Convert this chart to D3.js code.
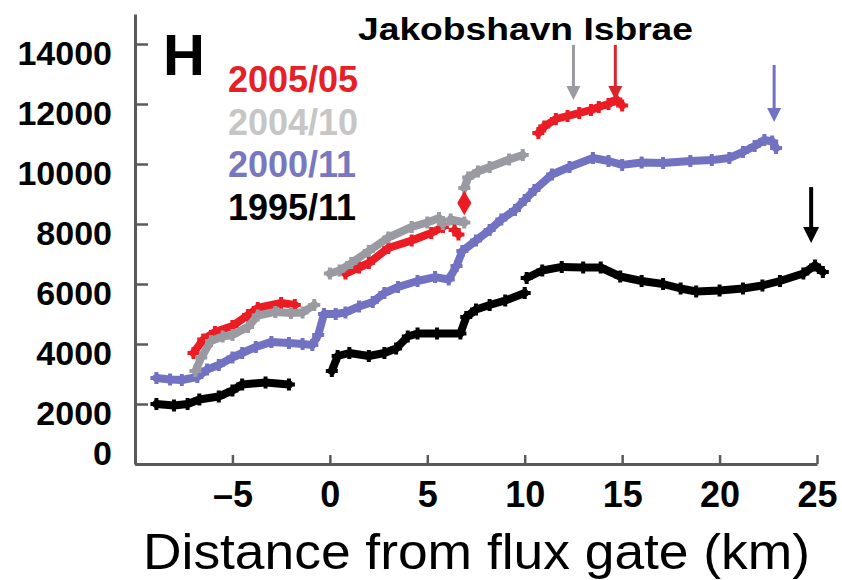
<!DOCTYPE html>
<html>
<head>
<meta charset="utf-8">
<script src="https://cdn.jsdelivr.net/npm/d3@7"></script>
<style>
body { margin: 0; background: #ffffff; }
text { font-family: "Liberation Sans", Arial, Helvetica, sans-serif; }
</style>
</head>
<body>
<svg></svg>
<script>
var screen = {width: 842, height: 580};

// distance (km) and flux values, null = gap in the profile
var dist1995 = [-8.9, -8.0, -7.3, -6.7, -5.7, -5.0, -4.5, -3.3, -2.1, null,
    0.1, 0.4, 1.0, 2.0, 2.8, 3.4, 4.0, 4.5, 5.5, 6.7, 7.0, 7.5, 8.2, 9.0, 10.0, null,
    10.1, 10.9, 11.9, 13.0, 13.9, 14.9, 16.0, 17.1, 18.0, 18.8, 20.0, 21.2, 22.2, 23.1, 24.3, 24.9, 25.3];
var flux1995 = [2000, 1950, 2000, 2150, 2250, 2450, 2650, 2720, 2650, null,
    3100, 3600, 3700, 3600, 3700, 3850, 4250, 4350, 4350, 4350, 4900, 5150, 5300, 5450, 5700, null,
    6200, 6450, 6570, 6550, 6550, 6250, 6100, 6000, 5850, 5750, 5780, 5850, 5950, 6100, 6350, 6620, 6400];

var dist2000 = [-8.9, -8.2, -7.6, -6.8, -6.3, -5.7, -5.0, -4.5, -3.8, -3.0, -2.1, -1.4, -0.9, -0.6, -0.3,
    0.3, 0.8, 1.5, 2.2, 2.8, 3.5, 4.5, 5.4, 6.1, 6.5, 6.8, 7.5, 8.2, 8.8, 9.5, 10.0, 10.5, 11.4, 12.3,
    13.5, 14.3, 15.0, 16.0, 17.1, 18.5, 19.6, 20.5, 21.2, 21.8, 22.3, 22.7, 22.9];
var flux2000 = [2870, 2820, 2800, 2900, 3150, 3300, 3550, 3700, 3900, 4070, 4030, 4000, 3970, 4300, 5000,
    5000, 5050, 5250, 5400, 5700, 5900, 6100, 6230, 6150, 6600, 7100, 7450, 7800, 8150, 8470, 8800, 9130, 9650, 9900,
    10200, 10100, 9970, 10050, 10030, 10100, 10130, 10200, 10400, 10600, 10800, 10750, 10530];

var dist2004 = [-6.9, -6.6, -6.1, -5.5, -5.0, -4.2, -3.7, -2.8, -2.0, -1.4, -0.8, null,
    0.0, 0.5, 1.1, 2.0, 3.0, 4.2, 5.0, 5.6, 5.8, null,
    6.2, 6.9, null,
    6.9, 7.1, 7.6, 8.2, 9.2, 9.9];
var flux2004 = [3100, 3550, 4100, 4250, 4300, 4570, 4950, 5070, 5030, 5050, 5300, null,
    6350, 6450, 6700, 7100, 7550, 7900, 8050, 8200, 8000, null,
    8150, 8050, null,
    9200, 9550, 9750, 9900, 10150, 10300];

var dist2005 = [-7.0, -6.5, -5.9, -5.0, -4.2, -3.7, -2.5, -1.8, null,
    0.8, 1.5, 2.0, 3.0, 4.2, 5.2, 5.8, null,
    6.4, 6.6, null,
    6.9, null,
    10.7, 11.0, 11.6, 12.2, 12.8, 13.4, 13.8, 14.3, 14.7, 15.0];
var flux2005 = [3700, 4150, 4400, 4600, 4970, 5200, 5370, 5300, null,
    6350, 6550, 6700, 7200, 7450, 7700, 7900, null,
    7800, 7650, null,
    8700, null,
    11030, 11250, 11500, 11600, 11700, 11800, 11900, 12000, 12150, 11950];

var seriesNames = ["2005/05", "2004/10", "2000/11", "1995/11"];
var seriesColors = ["#ec1c24", "#9a9aa2", "#7272c2", "#000000"];
var legendColors = ["#e52026", "#c6c6c6", "#7878c0", "#000000"];

// arrows marking the glacier front for each date
var arrowDist = [14.65, 12.5, 22.8, 24.7];
var arrowFrom = [13970, 13970, 13300, 9230];
var arrowTo = [12130, 12130, 11400, 7370];
var arrowColors = ["#d8262c", "#9a9aa2", "#7272c2", "#000000"];

var xTicks = [-5, 0, 5, 10, 15, 20, 25];
var yTicks = [0, 2000, 4000, 6000, 8000, 10000, 12000, 14000];

var svg = d3.select("svg")
    .attr("width", screen.width)
    .attr("height", screen.height);

var xScale = d3.scaleLinear()
                .domain([-10, 25])
                .range([135, 817]);

var yScale = d3.scaleLinear()
                .domain([0, 15000])
                .range([464, 14]);

var xAxis = d3.axisBottom(xScale)
                .tickValues(xTicks)
                .tickSize(-9)
                .tickSizeOuter(0)
                .tickPadding(17)
                .tickFormat(function(d){return d < 0 ? "\u2013" + Math.abs(d) : d;});

var yAxis = d3.axisLeft(yScale)
                .tickValues(yTicks)
                .tickSize(-13)
                .tickSizeOuter(0)
                .tickPadding(23)
                .tickFormat(function(d){return d;});

var gx = svg.append("g")
    .attr("id", "xAxis")
    .attr("transform", "translate(0," + yScale(0) + ")")
    .call(xAxis);

var gy = svg.append("g")
    .attr("id", "yAxis")
    .attr("transform", "translate(" + xScale(-10) + ",0)")
    .call(yAxis);

svg.selectAll(".domain")
    .attr("stroke", "#5a5a5a")
    .attr("stroke-width", 3);
svg.selectAll(".tick line")
    .attr("stroke", "#5a5a5a")
    .attr("stroke-width", 2.5);

gx.selectAll("text")
    .attr("font-size", 36)
    .attr("font-weight", "bold")
    .attr("fill", "#000");

gy.selectAll("text")
    .attr("font-size", 34)
    .attr("font-weight", "bold")
    .attr("fill", "#000")
    .attr("y", function(d){return d == 0 ? -10 : 10;});

svg.append("text")
    .attr("x", 143)
    .attr("y", 569)
    .attr("font-size", 50)
    .attr("textLength", 667)
    .attr("lengthAdjust", "spacingAndGlyphs")
    .text("Distance from flux gate (km)");

// profiles
var profiles = [
    {dist: dist2005, flux: flux2005},
    {dist: dist2004, flux: flux2004},
    {dist: dist2000, flux: flux2000},
    {dist: dist1995, flux: flux1995}
];

var lineGenerator = d3.line()
                        .defined(function(d){return d[1] != null;})
                        .x(function(d){return xScale(d[0]);})
                        .y(function(d){return yScale(d[1]);});

// draw back to front: black, blue, red, gray
var order = [3, 2, 0, 1];
order.forEach(function(i)
{
    var pts = profiles[i].dist.map(function(d, j){return [d, profiles[i].flux[j]];});
    var g = svg.append("g").attr("class", "series");

    g.append("path")
        .datum(pts)
        .attr("fill", "none")
        .attr("stroke", seriesColors[i])
        .attr("stroke-width", 8)
        .attr("stroke-linejoin", "round")
        .attr("stroke-linecap", "round")
        .attr("d", lineGenerator);

    g.selectAll("path.cross")
        .data(pts.filter(function(d){return d[1] != null;}))
        .enter()
        .append("path")
        .attr("class", "cross")
        .attr("d", d3.symbol().type(d3.symbolCross).size(80))
        .attr("transform", function(d){return "translate(" + xScale(d[0]) + "," + yScale(d[1]) + ")";})
        .attr("fill", seriesColors[i]);
});

// isolated red sample
svg.append("path")
    .attr("d", d3.symbol().type(d3.symbolDiamond).size(170))
    .attr("transform", "translate(" + xScale(6.9) + "," + yScale(8700) + ")")
    .attr("fill", seriesColors[0]);

// arrows
arrowDist.forEach(function(d, i)
{
    var x0 = xScale(d);
    var y0 = yScale(arrowFrom[i]);
    var y1 = yScale(arrowTo[i]);
    var w = i == 3 ? 4 : 3;
    var head = i == 3 ? 8 : 7;
    svg.append("line")
        .attr("x1", x0).attr("x2", x0)
        .attr("y1", y0).attr("y2", y1 - head * 1.5)
        .attr("stroke", arrowColors[i])
        .attr("stroke-width", w);
    svg.append("path")
        .attr("d", "M" + (x0 - head) + "," + (y1 - head * 2) + "L" + (x0 + head) + "," + (y1 - head * 2) + "L" + x0 + "," + y1 + "Z")
        .attr("fill", arrowColors[i]);
});

svg.append("text")
    .attr("x", 358)
    .attr("y", 40)
    .attr("font-size", 32)
    .attr("font-weight", "bold")
    .attr("textLength", 335)
    .attr("lengthAdjust", "spacingAndGlyphs")
    .text("Jakobshavn Isbrae");

svg.append("text")
    .attr("x", 163)
    .attr("y", 75)
    .attr("font-size", 58)
    .attr("font-weight", "bold")
    .text("H");

svg.selectAll("text.legend")
    .data(seriesNames)
    .enter()
    .append("text")
    .attr("class", "legend")
    .attr("x", 228)
    .attr("y", function(d, i){return 92 + i * 42.7;})
    .attr("font-size", 36)
    .attr("font-weight", "bold")
    .attr("fill", function(d, i){return legendColors[i];})
    .text(function(d){return d;});
</script>
</body>
</html>
